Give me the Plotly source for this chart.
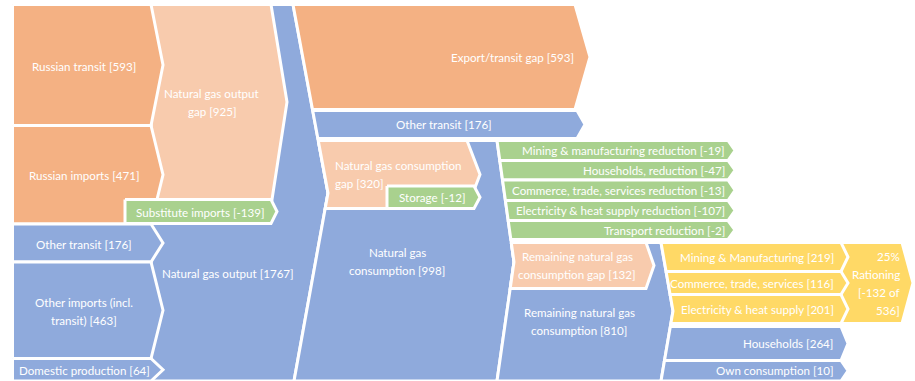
import textwrap
import plotly.graph_objects as go

# ---------------------------------------------------------------------------
# Values shown on the flow diagram
# ---------------------------------------------------------------------------
source_names = ["Russian transit", "Russian imports", "Other transit",
                "Other imports (incl. transit)", "Domestic production"]
source_values = [593, 471, 176, 463, 64]

output_gap_name = "Natural gas output gap"
output_gap_value = 925
substitute_name = "Substitute imports"
substitute_value = -139
output_name = "Natural gas output"
output_value = 1767

use_names = ["Export/transit gap", "Other transit", "Natural gas consumption"]
use_values = [593, 176, 998]

consumption_gap_name = "Natural gas consumption gap"
consumption_gap_value = 320
storage_name = "Storage"
storage_value = -12

reduction_names = ["Mining & manufacturing reduction", "Households, reduction",
                   "Commerce, trade, services reduction",
                   "Electricity & heat supply reduction", "Transport reduction"]
reduction_values = [-19, -47, -13, -107, -2]

remaining_gap_name = "Remaining natural gas consumption gap"
remaining_gap_value = 132
remaining_name = "Remaining natural gas consumption"
remaining_value = 810

rationed_names = ["Mining & Manufacturing", "Commerce, trade, services",
                  "Electricity & heat supply"]
rationed_values = [219, 116, 201]
protected_names = ["Households", "Own consumption"]
protected_values = [264, 10]

# ---------------------------------------------------------------------------
# Styling
# ---------------------------------------------------------------------------
ORANGE = "#F4B183"
LIGHT_ORANGE = "#F8CBAD"
BLUE = "#8FAADC"
GREEN = "#A9D18E"
YELLOW = "#FFD966"
FONT = "Lato"
FS = 11.6
LINE = 18
W, H = 915, 381

# ---------------------------------------------------------------------------
# Diagram layout (canvas units = pixels, y grows downwards)
# ---------------------------------------------------------------------------
TOP, BOTTOM = 4.5, 381
COL1_LEFT, COL1_FLAT, COL1_TIP = 12.5, 151, 163
# slanted boundaries between stages, as (x, y) polylines
B2 = [(293, TOP), (328, 193), (294, BOTTOM)]
B3 = [(497, 140.5), (514, 262), (497, BOTTOM)]
B4 = [(661, 242.5), (673, 311), (661, BOTTOM)]

source_rows = [(TOP, 125.5), (125.5, 224), (224, 262), (262, 358.5), (358.5, BOTTOM)]
use_rows = [(TOP, 109.5), (110.5, 138.5)]
use_arrow = [(575, 590), (577, 585)]
reduction_rows = [(140.5, 160.5), (160.5, 180), (180, 200.5), (200.5, 220.5), (220.5, 239.5)]
rationed_rows = [(242.5, 271.5), (271.5, 294.5), (294.5, 323.5)]
protected_rows = [(326.5, 360.5), (360.5, BOTTOM)]


def x_at(path, y):
    for (xa, ya), (xb, yb) in zip(path, path[1:]):
        if ya <= y <= yb:
            return xa + (xb - xa) * (y - ya) / (yb - ya)
    (xa, ya), (xb, yb) = (path[0], path[1]) if y < path[0][1] else (path[-2], path[-1])
    return xa + (xb - xa) * (y - ya) / (yb - ya)


def along(path, y0, y1):
    pts = [(x_at(path, y0), y0)]
    pts += [(x, y) for x, y in path if y0 < y < y1]
    pts.append((x_at(path, y1), y1))
    return pts


def straight(x, y0, y1):
    return [(x, y0), (x, y1)]


def arrow(flat, tip, y0, y1):
    return [(flat, y0), (tip, (y0 + y1) / 2), (flat, y1)]


fig = go.Figure()
annotations = []


def add_shape(left, right, color):
    pts = left + right[::-1] + [left[0]]
    fig.add_trace(go.Scatter(
        x=[p[0] for p in pts], y=[p[1] for p in pts],
        mode="lines", fill="toself", fillcolor=color,
        line=dict(color="white", width=3), hoverinfo="skip",
    ))


def add_label(text, x, y, anchor="center", wrap=None):
    lines = (textwrap.wrap(text, wrap, break_on_hyphens=False) if wrap else [text])
    n = len(lines)
    for i, ln in enumerate(lines):
        annotations.append(dict(
            x=x, y=y + (i - (n - 1) / 2) * LINE, text=ln, xref="x", yref="y",
            xanchor=anchor, yanchor="middle", showarrow=False,
            font=dict(family=FONT, size=FS, color="white"),
        ))


def tag(name, value):
    return f"{name} [{value}]"


# stage 2: output and its gap
add_shape(straight(COL1_FLAT, TOP, BOTTOM), along(B2, TOP, BOTTOM), BLUE)
add_shape(straight(COL1_FLAT, TOP, 199.5), [(271, TOP), (287, 102), (272, 199.5)], LIGHT_ORANGE)
add_label(tag(output_gap_name, output_gap_value), 212, 102.5, wrap=18)
add_label(tag(output_name, output_value), 160, 273, anchor="left")

# stage 1: sources
source_colors = [ORANGE, ORANGE, BLUE, BLUE, BLUE]
source_wrap = [None, None, None, 20, None]
for name, val, (y0, y1), col, wr in zip(source_names, source_values, source_rows,
                                         source_colors, source_wrap):
    add_shape(straight(COL1_LEFT, y0, y1), arrow(COL1_FLAT, COL1_TIP, y0, y1), col)
    add_label(tag(name, val), 84, (y0 + y1) / 2 + 1, wrap=wr)

add_shape(straight(125, 199.5, 223.5), arrow(271, 277, 199.5, 223.5), GREEN)
add_label(tag(substitute_name, substitute_value), 200, 212)

# stage 3: uses of output
use_colors = [ORANGE, BLUE]
for i, ((y0, y1), (flat, tip), col) in enumerate(zip(use_rows, use_arrow, use_colors)):
    add_shape(along(B2, y0, y1), arrow(flat, tip, y0, y1), col)
add_label(tag(use_names[0], use_values[0]), 576, 57, anchor="right")
add_label(tag(use_names[1], use_values[1]), 444, 124.5)

add_shape(along(B2, 140.5, BOTTOM), along(B3, 140.5, BOTTOM), BLUE)
add_label(tag(use_names[2], use_values[2]), 397, 261, wrap=17)

add_shape(along(B2, 140.5, 208.5), arrow(467, 480, 140.5, 208.5), LIGHT_ORANGE)
add_label(tag(consumption_gap_name, consumption_gap_value), 333, 174, anchor="left", wrap=23)
add_shape(straight(387, 186, 208.5), arrow(474, 480, 186, 208.5), GREEN)
add_label(tag(storage_name, storage_value), 432, 197.5)

# stage 4: demand reductions and remaining consumption
for name, val, (y0, y1) in zip(reduction_names, reduction_values, reduction_rows):
    add_shape(along(B3, y0, y1), arrow(728, 735, y0, y1), GREEN)
    add_label(tag(name, val), 727, (y0 + y1) / 2, anchor="right")

add_shape(along(B3, 242.5, BOTTOM), along(B4, 242.5, BOTTOM), BLUE)
add_label(tag(remaining_name, remaining_value), 579, 321, wrap=21)
add_shape(along(B3, 242.5, 288.5), arrow(646, 654, 242.5, 288.5), LIGHT_ORANGE)
add_label(tag(remaining_gap_name, remaining_gap_value), 577, 265, wrap=21)

# stage 5: rationing of the remaining gap
rationed_total = sum(rationed_values)
share = round(100 * remaining_gap_value / rationed_total)
add_shape(straight(841, 242.5, 323.5), arrow(902, 913, 242.5, 323.5), YELLOW)
add_label(f"{share}% Rationing [-{remaining_gap_value} of {rationed_total}]",
          902, 283.5, anchor="right", wrap=9)

for name, val, (y0, y1) in zip(rationed_names, rationed_values, rationed_rows):
    add_shape(along(B4, y0, y1), arrow(841, 848, y0, y1), YELLOW)
    add_label(tag(name, val), 836, (y0 + y1) / 2, anchor="right")

for name, val, (y0, y1) in zip(protected_names, protected_values, protected_rows):
    add_shape(along(B4, y0, y1), arrow(841, 848, y0, y1), BLUE)
    add_label(tag(name, val), 835, (y0 + y1) / 2, anchor="right")

fig.update_layout(
    width=W, height=H, margin=dict(l=0, r=0, t=0, b=0),
    paper_bgcolor="white", plot_bgcolor="white", showlegend=False,
    xaxis=dict(range=[0, W], visible=False, fixedrange=True),
    yaxis=dict(range=[H, 0], visible=False, fixedrange=True),
    annotations=annotations,
)

fig.write_html("out.html", config={"displayModeBar": False})
